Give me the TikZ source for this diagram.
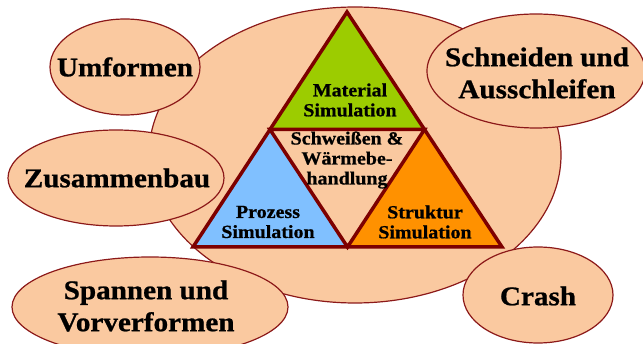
\documentclass[tikz,border=0pt]{standalone}
\usepackage{fontspec}
\setmainfont{Liberation Serif}[FakeStretch=1.08,BoldFeatures={FakeBold=0.8}]
\definecolor{pfirsich}{RGB}{250,201,160}
\definecolor{randrot}{RGB}{140,25,25}
\definecolor{dunkelrot}{RGB}{125,0,0}
\definecolor{gruen}{RGB}{156,204,0}
\definecolor{hellblau}{RGB}{128,192,255}
\definecolor{orangegelb}{RGB}{255,145,0}
\begin{document}
\begin{tikzpicture}[x=1pt,y=-1pt,
    blase/.style={draw=randrot,line width=1.2pt,fill=pfirsich},
    dreieck/.style={draw=dunkelrot,line width=3.5pt,line join=miter},
    gross/.style={align=center,font=\bfseries\fontsize{27}{32}\selectfont},
    klein/.style={align=center,font=\bfseries\fontsize{18.5}{20}\selectfont}]
    \useasboundingbox (0,0) rectangle (643,344);
    \draw[blase] (355,155) ellipse [x radius=206pt,y radius=148pt];
    \draw[blase] (125,67) ellipse [x radius=75pt,y radius=48pt];
    \draw[blase] (116,178) ellipse [x radius=108pt,y radius=48pt];
    \draw[blase] (150,307) ellipse [x radius=138pt,y radius=50pt];
    \draw[blase] (536,71) ellipse [x radius=109pt,y radius=57pt];
    \draw[blase] (538,295) ellipse [x radius=75pt,y radius=48pt];
    \node[gross] (umformen) at (125,67) {Umformen};
    \node[gross] (zusammenbau) at (117,178) {Zusammenbau};
    \node[gross] (spannen) at (146,306) {Spannen und\\Vorverformen};
    \node[gross] (schneiden) at (537,73) {Schneiden und\\Ausschleifen};
    \node[gross] (crash) at (538,296) {Crash};
    \coordinate (spitze) at (347,12);
    \coordinate (links) at (193,247);
    \coordinate (rechts) at (502,247);
    \coordinate (ml) at (270,129.5);
    \coordinate (mr) at (424.5,129.5);
    \coordinate (mu) at (347.5,247);
    \fill[gruen] (spitze) -- (ml) -- (mr) -- cycle;
    \fill[hellblau] (ml) -- (links) -- (mu) -- cycle;
    \fill[orangegelb] (mr) -- (mu) -- (rechts) -- cycle;
    \draw[dreieck] (spitze) -- (links) -- (rechts) -- cycle;
    \draw[dreieck] (ml) -- (mr) -- (mu) -- cycle;
    \node[klein] (material) at (350,100) {Material\\Simulation};
    \node[klein] (schweissen) at (347,160) {Schweißen \&\\Wärmebe-\\handlung};
    \node[klein] (prozess) at (268,222) {Prozess\\Simulation};
    \node[klein] (struktur) at (425,222) {Struktur\\Simulation};
\end{tikzpicture}
\end{document}
